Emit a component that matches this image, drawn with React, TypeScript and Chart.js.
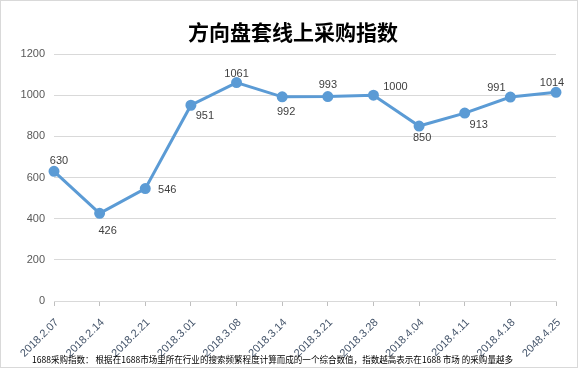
import React, { useEffect, useRef } from 'react';
import { Chart, registerables } from 'chart.js';

Chart.register(...registerables);

const categories = [
  '2018.2.07', '2018.2.14', '2018.2.21', '2018.3.01', '2018.3.08', '2018.3.14',
  '2018.3.21', '2018.3.28', '2018.4.04', '2018.4.11', '2018.4.18', '2048.4.25',
];
const values = [630, 426, 546, 951, 1061, 992, 993, 1000, 850, 913, 991, 1014];
const yMin = 0;
const yMax = 1200;
const yStep = 200;
const titleText = '方向盘套线上采购指数';
const footnoteText =
  '1688采购指数： 根据在1688市场里所在行业的搜索频繁程度计算而成的一个综合数值，指数越高表示在1688 市场 的采购量越多';

// label placement offsets relative to each point (style, not data)
const labelOffsets: [number, number][] = [
  [5, -10], [8, 18], [22, 1], [14, 11], [0, -9], [4, 15],
  [0, -12], [22, -8], [3, 12], [14, 12], [-14, -9], [-4, -9],
];

const decorPlugin = {
  id: 'decor',
  beforeDraw(chart: any) {
    const ctx = chart.ctx;
    ctx.save();
    ctx.fillStyle = '#ffffff';
    ctx.fillRect(0, 0, chart.width, chart.height);
    ctx.restore();
  },
  afterDraw(chart: any) {
    const ctx = chart.ctx;
    ctx.save();
    const meta = chart.getDatasetMeta(0);
    ctx.font = '11px "Liberation Sans", Arial, sans-serif';
    ctx.fillStyle = '#404040';
    ctx.textAlign = 'center';
    ctx.textBaseline = 'middle';
    meta.data.forEach((pt: any, i: number) => {
      const [dx, dy] = labelOffsets[i] || [0, -10];
      ctx.fillText(String(values[i]), pt.x + dx, pt.y + dy);
    });
    ctx.font = 'bold 21px "Noto Sans CJK SC", sans-serif';
    ctx.fillStyle = '#000000';
    ctx.textAlign = 'center';
    ctx.textBaseline = 'middle';
    ctx.fillText(titleText, 293, 32);
    ctx.font = '9px "Noto Sans CJK SC", sans-serif';
    ctx.textAlign = 'left';
    ctx.fillText(footnoteText, 32, 360, 481);
    ctx.strokeStyle = '#d9d9d9';
    ctx.lineWidth = 1;
    ctx.strokeRect(0.5, 0.5, chart.width - 1, chart.height - 1);
    ctx.restore();
  },
};

export default function App() {
  const ref = useRef<HTMLCanvasElement | null>(null);
  useEffect(() => {
    document.body.style.margin = '0';
    if (!ref.current) return;
    const chart = new Chart(ref.current, {
      type: 'line',
      data: {
        labels: categories,
        datasets: [
          {
            data: values,
            borderColor: '#5b9bd5',
            backgroundColor: '#5b9bd5',
            borderWidth: 3,
            pointRadius: 4,
            pointBackgroundColor: '#5b9bd5',
            pointBorderColor: '#5b9bd5',
            tension: 0,
          },
        ],
      },
      options: {
        responsive: false,
        animation: false,
        layout: { padding: { top: 54, right: 22, left: 0, bottom: 0 } },
        plugins: {
          legend: { display: false },
          title: { display: false },
          tooltip: { enabled: false },
        },
        scales: {
          x: {
            offset: false,
            afterFit(scale: any) {
              scale.height = 67;
            },
            grid: {
              drawOnChartArea: false,
              drawTicks: true,
              tickLength: 5,
              color: '#bfbfbf',
            },
            border: { color: '#d9d9d9' },
            ticks: {
              autoSkip: false,
              maxRotation: 45,
              minRotation: 45,
              padding: 10,
              labelOffset: 3,
              color: '#44546a',
              font: { size: 11, family: '"Liberation Sans", Arial, sans-serif' },
            },
          },
          y: {
            min: yMin,
            max: yMax,
            afterFit(scale: any) {
              scale.width = 54;
            },
            grid: { color: '#d9d9d9', drawTicks: false },
            border: { display: false },
            ticks: {
              stepSize: yStep,
              padding: 9,
              color: '#595959',
              font: { size: 11, family: '"Liberation Sans", Arial, sans-serif' },
              callback: (v: any) => String(v),
            },
          },
        },
      },
      plugins: [decorPlugin],
    });
    return () => chart.destroy();
  }, []);
  return <canvas ref={ref} width={578} height={368} style={{ display: 'block', width: 578, height: 368 }} />;
}
